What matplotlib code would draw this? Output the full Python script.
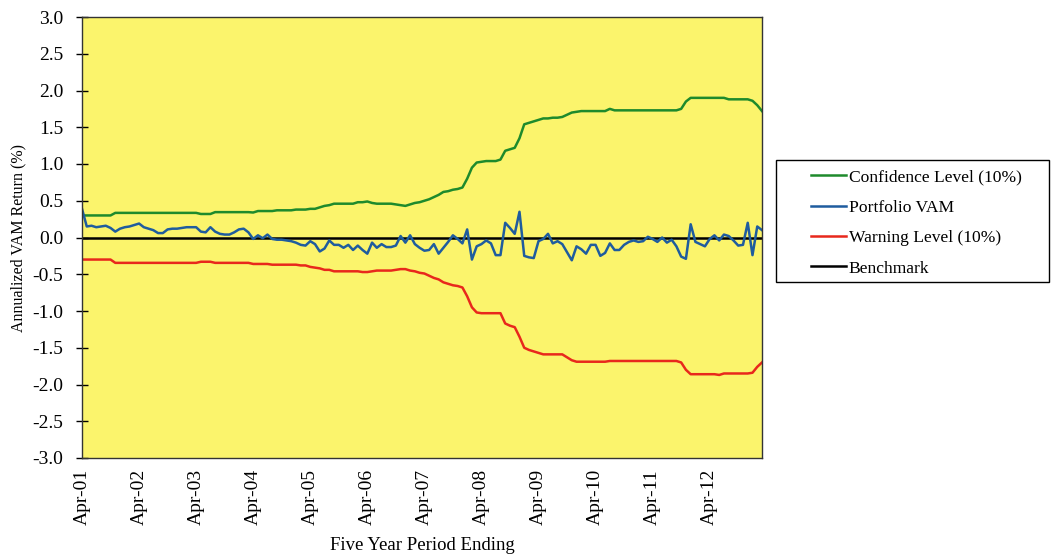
import matplotlib
matplotlib.use("Agg")
import matplotlib.pyplot as plt
from matplotlib.lines import Line2D
from matplotlib.patches import Rectangle
from matplotlib.ticker import FuncFormatter

plt.rcParams["font.family"] = ["Liberation Serif", "DejaVu Serif"]

# Monthly observations, Apr-01 .. Mar-13 (144 months)
tick_labels = ["Apr-01", "Apr-02", "Apr-03", "Apr-04", "Apr-05", "Apr-06",
               "Apr-07", "Apr-08", "Apr-09", "Apr-10", "Apr-11", "Apr-12"]

confidence = (
    [0.30] * 7 + [0.335] * 18 + [0.32] * 3 + [0.345] * 8 +
    [0.34, 0.36, 0.36, 0.36, 0.36, 0.37, 0.37, 0.37, 0.37, 0.38, 0.38, 0.38,
     0.39, 0.39, 0.41, 0.43, 0.44, 0.46, 0.46, 0.46, 0.46, 0.46, 0.48, 0.48,
     0.49, 0.47, 0.46, 0.46, 0.46, 0.46, 0.45, 0.44, 0.43, 0.45, 0.47, 0.48,
     0.50, 0.52, 0.55, 0.58, 0.62, 0.63, 0.65, 0.66, 0.68, 0.80, 0.95, 1.02,
     1.03, 1.04, 1.04, 1.04, 1.06, 1.18, 1.20, 1.22, 1.35, 1.54, 1.56, 1.58,
     1.60, 1.62, 1.62, 1.63, 1.63, 1.64, 1.67, 1.70, 1.71, 1.72, 1.72, 1.72,
     1.72, 1.72, 1.72, 1.75, 1.73, 1.73, 1.73, 1.73, 1.73, 1.73, 1.73, 1.73,
     1.73, 1.73, 1.73, 1.73, 1.73, 1.73, 1.75, 1.85, 1.90, 1.90, 1.90, 1.90,
     1.90, 1.90, 1.90, 1.90, 1.88, 1.88, 1.88, 1.88, 1.88, 1.86, 1.80, 1.72]
)

warning = (
    [-0.30] * 7 + [-0.345] * 18 + [-0.33] * 3 + [-0.345] * 8 +
    [-0.36, -0.36, -0.36, -0.36, -0.37, -0.37, -0.37, -0.37, -0.37, -0.37,
     -0.38, -0.38, -0.40, -0.41, -0.42, -0.44, -0.44, -0.46, -0.46, -0.46,
     -0.46, -0.46, -0.46, -0.47, -0.47, -0.46, -0.45, -0.45, -0.45, -0.45,
     -0.44, -0.43, -0.43, -0.45, -0.46, -0.48, -0.49, -0.52, -0.55, -0.57,
     -0.61, -0.63, -0.65, -0.66, -0.68, -0.80, -0.95, -1.02, -1.03, -1.03,
     -1.03, -1.03, -1.03, -1.17, -1.20, -1.22, -1.35, -1.50, -1.53, -1.55,
     -1.57, -1.59, -1.59, -1.59, -1.59, -1.59, -1.63, -1.67, -1.69, -1.69,
     -1.69, -1.69, -1.69, -1.69, -1.69, -1.68, -1.68, -1.68, -1.68, -1.68,
     -1.68, -1.68, -1.68, -1.68, -1.68, -1.68, -1.68, -1.68, -1.68, -1.68,
     -1.70, -1.80, -1.86, -1.86, -1.86, -1.86, -1.86, -1.86, -1.87, -1.85,
     -1.85, -1.85, -1.85, -1.85, -1.85, -1.84, -1.76, -1.70]
)

portfolio_vam = [
    0.39, 0.15, 0.16, 0.14, 0.15, 0.16, 0.13, 0.08, 0.12, 0.14, 0.15, 0.17,
    0.19, 0.14, 0.12, 0.10, 0.06, 0.06, 0.11, 0.12, 0.12, 0.13, 0.14, 0.14,
    0.14, 0.08, 0.07, 0.14, 0.08, 0.05, 0.04, 0.04, 0.07, 0.11, 0.12, 0.07,
    -0.02, 0.03, -0.01, 0.04, -0.02, -0.03, -0.03, -0.04, -0.05, -0.07, -0.10, -0.11,
    -0.05, -0.09, -0.19, -0.15, -0.04, -0.10, -0.10, -0.14, -0.10, -0.17, -0.11, -0.17,
    -0.22, -0.07, -0.14, -0.09, -0.13, -0.13, -0.11, 0.02, -0.07, 0.03, -0.09, -0.14,
    -0.18, -0.17, -0.09, -0.22, -0.14, -0.06, 0.03, -0.02, -0.08, 0.11, -0.30, -0.12,
    -0.09, -0.04, -0.08, -0.24, -0.24, 0.20, 0.13, 0.05, 0.35, -0.25, -0.27, -0.28,
    -0.05, -0.02, 0.05, -0.08, -0.05, -0.09, -0.20, -0.31, -0.12, -0.16, -0.22, -0.10,
    -0.10, -0.25, -0.21, -0.08, -0.17, -0.17, -0.10, -0.06, -0.04, -0.06, -0.05, 0.01,
    -0.02, -0.06, 0.00, -0.07, -0.03, -0.12, -0.26, -0.29, 0.18, -0.06, -0.09, -0.12,
    -0.02, 0.03, -0.04, 0.04, 0.02, -0.04, -0.11, -0.10, 0.20, -0.24, 0.15, 0.10,
]

months = list(range(len(portfolio_vam)))
benchmark = [0.0] * len(months)

fig = plt.figure(figsize=(10.51, 5.55), dpi=100)
ax = fig.add_axes([82 / 1051, 1 - 458 / 555, 680 / 1051, 441 / 555])
ax.set_facecolor("#FBF46C")

c_green, c_blue, c_red = "#1E8A2C", "#1F5C9E", "#E8281C"
ax.plot(months, confidence, color=c_green, lw=1.8)
ax.plot(months, warning, color=c_red, lw=1.8)
ax.plot(months, benchmark, color="black", lw=1.8)
ax.plot(months, portfolio_vam, color=c_blue, lw=1.8)

ax.set_xlim(0, len(months) - 1)
ax.set_ylim(-3.0, 3.0)
ax.set_yticks([-3.0 + 0.5 * i for i in range(13)])
ax.yaxis.set_major_formatter(FuncFormatter(lambda v, p: f"{v:.1f}".replace("\u2212", "-")))
ax.set_xticks(months[::12])
ax.set_xticklabels(tick_labels, rotation=90)
ax.tick_params(axis="y", direction="inout", length=9, width=1, labelsize=14, pad=9)
ax.tick_params(axis="x", length=0, labelsize=14, pad=8)
for s in ax.spines.values():
    s.set_color("#333333")
    s.set_linewidth(1.0)

ax.set_ylabel("Annualized VAM Return (%)", fontsize=11.5, labelpad=4)
fig.text(422 / 1051, 1 - 546 / 555, "Five Year Period Ending", ha="center",
         va="center", fontsize=13.5)

# Legend with its own frame
fig.patches.append(Rectangle((776 / 1051, 1 - 282 / 555), 273 / 1051, 122 / 555,
                             transform=fig.transFigure, fill=False,
                             edgecolor="black", lw=1.0))
handles = [Line2D([], [], color=c_green, lw=1.8),
           Line2D([], [], color=c_blue, lw=1.8),
           Line2D([], [], color=c_red, lw=1.8),
           Line2D([], [], color="black", lw=1.8)]
labels = ["Confidence Level (10%)", "Portfolio VAM", "Warning Level (10%)", "Benchmark"]
fig.legend(handles, labels, loc="upper left", bbox_to_anchor=(811 / 1051, 1 - 169 / 555),
           frameon=False, fontsize=12.6, handlelength=2.0, handletextpad=0.15,
           labelspacing=0.81, borderaxespad=0, borderpad=0)

fig.savefig("out.png", dpi=100)
